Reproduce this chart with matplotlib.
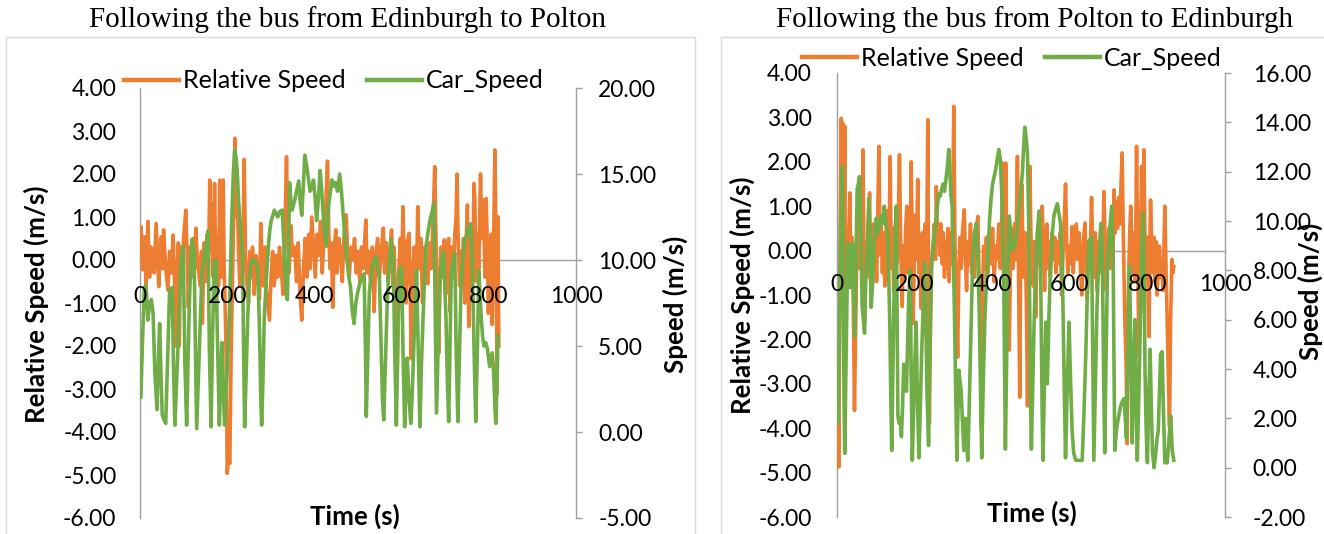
import matplotlib
matplotlib.use("Agg")
import matplotlib.pyplot as plt
from matplotlib.patches import Rectangle
from matplotlib.ticker import FormatStrFormatter

plt.rcParams['axes.unicode_minus'] = False
plt.rcParams['font.family'] = ['Lato', 'DejaVu Sans']

# ---------------- data: Edinburgh -> Polton ----------------
ep_rel_t = [0, 2, 6, 10, 14, 18, 22, 25, 28, 32, 37, 40, 43, 46, 49, 52, 54, 58, 61, 64, 68, 72, 76, 79, 82, 85, 88, 90, 93, 96,
            100, 105, 108, 111, 114, 118, 122, 125, 128, 131, 135, 138, 141, 143, 147, 151, 154, 157, 160, 163, 165, 168, 171, 173, 175, 178, 180, 183, 186, 188,
            191, 193, 196, 198, 200, 203, 206, 209, 212, 215, 218, 221, 223, 226, 229, 232, 235, 239, 242, 245, 249, 252, 255, 258, 262, 266, 270, 274, 277, 280,
            283, 287, 290, 294, 297, 300, 304, 308, 312, 316, 320, 324, 328, 332, 336, 339, 342, 346, 350, 355, 359, 363, 367, 371, 375, 379, 383, 387, 390, 394,
            398, 402, 406, 410, 414, 418, 422, 426, 430, 433, 436, 439, 442, 445, 449, 452, 456, 460, 464, 468, 473, 476, 480, 484, 488, 492, 496, 500, 504, 508,
            512, 515, 518, 521, 525, 529, 533, 537, 541, 545, 549, 553, 558, 561, 565, 569, 573, 577, 580, 583, 586, 590, 593, 597, 600, 603, 606, 610, 613, 617,
            620, 622, 625, 629, 633, 637, 640, 644, 648, 652, 656, 660, 664, 668, 672, 676, 679, 682, 685, 688, 691, 694, 698, 701, 704, 708, 711, 714, 718, 722,
            725, 727, 730, 733, 736, 739, 742, 745, 748, 751, 754, 757, 760, 763, 766, 768, 771, 774, 777, 781, 784, 788, 791, 794, 797, 799, 802, 805, 808, 811,
            814, 817, 819, 821, 823]
ep_rel_v = [0.6, 0.78, -0.23, 0.54, -0.6, 0.9, -0.4, 0.3, 0.15, -0.3, 0.85, 0.1, -0.62, 0.2, 0.54, -0.2, 0.7, 0.0, -0.4, -0.7, 0.2, -0.3, 0.58, -0.4, -2.0, -0.3, 0.4, -2.0, 0.3, -0.5,
            0.5, 1.16, 0.2, -1.1, 0.3, -0.4, 0.5, -0.2, 0.74, 0.1, -0.3, -0.6, 0.2, -1.47, 0.4, -0.5, 0.6, -0.3, 1.86, 0.2, 1.3, -0.4, 1.78, 0.3, -1.16, 0.5, -0.6, 1.86, -0.4, 0.8,
            1.86, -0.2, -1.4, -2.5, -4.96, -4.6, -4.73, -2.2, -0.5, 1.2, 2.83, 1.0, 1.7, 0.2, -0.6, 0.5, -0.3, 2.34, 0.1, -0.5, -1.0, 0.2, -0.4, 0.3, -0.8, 0.1, -0.3, -0.9, 0.85, 0.0,
            -0.6, 0.3, -0.7, -1.1, -1.4, -0.5, 0.2, -0.6, 0.1, -0.4, 0.3, -0.2, -0.8, 0.5, 2.4, 0.6, -0.3, 0.8, 0.1, 0.3, -0.5, 0.4, -0.8, -1.4, -0.2, 0.5, -0.4, 0.6, -0.2, 1.0,
            0.3, -0.4, 0.6, 0.1, 0.9, -0.3, 0.5, 1.2, 2.3, 0.6, -0.2, 0.4, -1.1, 0.2, 0.7, -0.3, 0.5, 0.2, -0.5, 0.6, 1.05, 0.2, -0.4, 0.3, 0.0, 0.5, -0.3, 0.2, -0.5, 0.3,
            -0.2, 0.4, 0.93, -0.3, 0.2, -0.6, 0.3, -1.2, 0.1, 0.5, -0.4, 0.2, 0.74, -0.3, 0.4, -0.5, 0.2, 0.7, -0.6, 0.3, -1.0, -2.75, -0.4, 0.5, -0.6, 1.24, 0.0, -1.0, 0.4, 0.62,
            -0.8, -2.3, -0.4, 0.3, -1.2, 1.24, -0.2, 0.5, -1.0, 0.3, -0.3, -0.55, 0.4, -0.2, 0.9, 2.17, 0.4, -0.6, -2.17, -0.5, 0.3, -0.4, 0.47, -0.8, 0.2, 0.5, -1.2, 0.3, -0.4, 0.6,
            1.0, 2.0, 0.3, -0.6, 0.2, -0.3, 0.5, -1.0, 0.4, 1.28, -1.55, 0.2, 0.78, -0.3, 1.78, 1.4, -0.5, 0.6, -0.2, 2.0, 0.5, 1.4, -0.4, 1.43, 0.2, -1.24, -0.3, 0.6, -1.5, 0.4,
            2.56, 0.2, -3.1, 1.0, -2.0]

ep_car_t = [0, 2, 6, 10, 14, 18, 22, 26, 30, 34, 39, 42, 45, 48, 51, 55, 59, 63, 68, 71, 74, 77, 80, 84, 88, 91, 94, 99, 103, 107,
            110, 113, 116, 119, 124, 127, 130, 133, 136, 139, 142, 146, 150, 153, 156, 159, 163, 166, 170, 174, 178, 182, 185, 188, 191, 194, 197, 200, 205, 210,
            214, 217, 220, 223, 226, 229, 232, 235, 238, 240, 243, 247, 250, 254, 258, 262, 266, 270, 274, 277, 279, 282, 285, 290, 295, 298, 301, 305, 308, 312,
            316, 320, 326, 329, 332, 336, 338, 341, 343, 346, 349, 352, 355, 359, 364, 367, 371, 374, 378, 382, 386, 390, 394, 398, 402, 405, 409, 413, 417, 421,
            424, 427, 430, 433, 437, 440, 444, 448, 453, 458, 462, 467, 471, 475, 479, 483, 487, 491, 495, 499, 503, 506, 510, 514, 517, 519, 522, 526, 530, 533,
            537, 541, 545, 549, 553, 556, 559, 563, 567, 571, 576, 581, 584, 588, 591, 595, 600, 603, 607, 610, 613, 617, 621, 624, 626, 630, 634, 638, 642, 645,
            649, 652, 656, 660, 665, 670, 674, 677, 680, 684, 688, 692, 696, 699, 702, 705, 708, 711, 714, 718, 722, 725, 729, 733, 736, 740, 745, 750, 754, 758,
            762, 766, 770, 774, 777, 780, 783, 786, 789, 793, 797, 800, 802, 805, 808, 811, 814, 816, 819, 821]
ep_car_s = [2.0, 2.0, 5.5, 8.4, 8.5, 6.5, 7.5, 7.7, 6.9, 3.5, 1.3, 4.0, 6.3, 3.5, 1.0, 0.7, 0.5, 4.0, 8.3, 7.5, 8.4, 3.5, 0.4, 3.0, 5.5, 8.0, 10.0, 10.8, 4.0, 0.4,
            4.0, 7.3, 9.5, 11.2, 10.4, 5.0, 0.2, 2.5, 4.7, 7.0, 9.2, 10.0, 10.7, 11.0, 11.7, 5.0, 0.3, 5.0, 9.8, 10.0, 5.0, 0.4, 3.0, 5.2, 2.5, 0.4, 2.0, 3.6, 6.9, 12.0,
            15.0, 16.4, 16.0, 15.2, 13.5, 12.3, 11.5, 10.4, 4.0, 0.3, 3.0, 6.6, 8.5, 9.7, 10.0, 10.0, 9.8, 9.6, 6.0, 2.0, 0.4, 3.0, 6.6, 9.0, 11.0, 11.8, 12.3, 12.6, 12.9, 12.7,
            12.5, 12.8, 12.9, 11.5, 9.7, 8.0, 7.7, 11.0, 14.5, 13.5, 12.9, 13.2, 13.5, 14.0, 14.6, 13.5, 12.6, 14.0, 16.1, 15.5, 14.8, 14.0, 14.2, 14.65, 13.5, 12.3, 13.5, 15.2, 14.0, 12.3,
            11.5, 10.8, 12.0, 13.3, 14.0, 14.65, 14.3, 14.5, 14.0, 15.0, 14.0, 12.3, 11.0, 10.0, 9.0, 8.4, 7.0, 6.3, 7.5, 8.1, 8.5, 8.8, 9.0, 9.2, 5.0, 0.9, 4.0, 8.1, 9.0, 9.6,
            10.0, 10.2, 9.6, 9.0, 5.0, 2.0, 0.7, 4.0, 7.5, 9.5, 11.2, 10.0, 5.0, 0.4, 5.0, 9.4, 9.6, 5.0, 0.3, 2.5, 4.3, 2.0, 0.5, 2.0, 3.5, 6.5, 9.4, 5.0, 0.3, 3.5,
            6.5, 8.5, 10.8, 11.5, 12.3, 12.8, 13.3, 7.0, 1.1, 5.0, 9.0, 10.0, 10.5, 8.5, 6.5, 3.0, 0.6, 5.0, 9.4, 10.0, 10.4, 5.0, 0.6, 5.0, 8.1, 10.0, 11.2, 11.5, 12.0, 12.1,
            10.0, 5.0, 0.6, 5.0, 9.4, 8.0, 6.5, 5.5, 5.0, 5.2, 4.8, 4.2, 3.8, 4.3, 4.6, 3.5, 1.5, 0.5, 3.0, 5.6]

# ---------------- data: Polton -> Edinburgh ----------------
pe_rel_t = [0, 3, 5, 8, 11, 13, 15, 18, 20, 22, 25, 28, 31, 33, 36, 39, 42, 45, 48, 51, 54, 57, 60, 64, 67, 71, 74, 77, 80, 84,
            87, 90, 93, 96, 99, 102, 105, 108, 111, 114, 117, 120, 123, 126, 129, 132, 135, 137, 140, 143, 146, 149, 152, 155, 158, 161, 164, 168, 171, 174,
            177, 180, 183, 186, 188, 191, 194, 196, 199, 202, 205, 208, 211, 214, 217, 220, 224, 227, 231, 234, 236, 238, 241, 244, 248, 251, 254, 256, 259, 262,
            265, 268, 271, 274, 277, 280, 283, 286, 289, 292, 295, 298, 301, 304, 307, 311, 314, 317, 320, 324, 328, 331, 334, 337, 340, 344, 347, 350, 354, 358,
            363, 366, 369, 372, 375, 378, 381, 385, 389, 393, 397, 401, 405, 409, 413, 417, 421, 424, 427, 430, 433, 435, 438, 441, 444, 447, 450, 454, 458, 461,
            465, 468, 471, 473, 476, 479, 482, 485, 488, 491, 494, 497, 500, 503, 506, 509, 512, 515, 518, 521, 525, 529, 532, 535, 538, 541, 544, 547, 550, 554,
            557, 561, 564, 568, 571, 575, 579, 582, 585, 589, 592, 595, 598, 602, 606, 609, 613, 617, 620, 624, 628, 631, 635, 639, 642, 645, 648, 652, 656, 659,
            662, 666, 670, 673, 676, 680, 684, 688, 691, 694, 697, 701, 704, 707, 711, 714, 717, 720, 723, 726, 729, 732, 735, 738, 742, 745, 748, 751, 754, 757,
            760, 763, 766, 769, 772, 775, 778, 781, 785, 788, 791, 794, 797, 800, 802, 804, 806, 808, 811, 814, 817, 820, 823, 825, 828, 831, 834, 837, 840, 843,
            845, 848, 851, 854, 857, 860, 863, 866, 868]
pe_rel_v = [-3.9, -3.9, -4.87, 0.5, 2.98, -0.5, 2.87, 0.2, 2.8, -1.64, 0.5, -0.8, 0.6, 1.3, -0.5, 0.3, -1.2, -3.6, -1.8, -0.2, 0.6, -0.4, 0.8, -0.3, 2.27, -1.64, 0.2, -0.6, 0.5, 1.3,
            -0.8, -0.2, 0.6, -0.4, 0.4, -0.7, 0.8, 2.35, -0.1, 0.6, -0.5, 0.4, -0.8, 0.2, 0.9, -0.3, 0.8, 2.12, -0.4, 0.5, -0.9, 0.3, 0.8, -0.3, 0.7, 2.16, 0.2, -1.26, 0.1, -0.6,
            0.5, 1.0, -0.5, 0.3, -0.8, 2.0, 0.3, -1.64, -0.4, 0.8, -0.2, 1.6, -0.5, 0.2, -1.3, 0.4, -0.5, 0.6, -0.2, 2.95, -1.0, -3.9, -1.7, -0.3, 0.2, 0.6, -0.2, 1.44, 0.3, 0.6,
            -0.1, 0.6, -0.3, 0.4, -0.6, 0.2, -0.4, 0.5, -0.7, 0.4, -0.3, 0.8, 3.25, 0.2, -0.9, -2.4, -0.5, 0.3, -0.4, 0.5, 0.92, -0.2, -0.9, 0.2, -0.3, 0.6, -0.5, 0.1, -0.6, 0.4,
            0.77, -0.5, -1.5, -4.0, -1.0, 0.1, -0.4, 0.3, -0.5, 0.4, -0.3, 0.5, -0.7, 0.1, -0.2, 0.6, -0.4, 0.5, 1.97, 0.2, -0.5, 1.97, -0.4, -1.2, -2.24, -0.3, 0.5, -0.4, 0.6, -0.2,
            2.12, -0.5, -3.3, -0.6, 1.5, 0.2, -0.6, 0.4, -1.2, -3.5, -0.2, 1.9, 0.3, -0.4, -0.8, 0.2, -1.5, -0.2, 0.4, -0.3, 0.5, 1.0, 0.0, -0.9, 0.3, 0.6, -0.4, 0.2, -0.6, 0.4,
            -0.2, 0.3, -0.5, 0.2, -0.3, 0.4, -1.0, -0.2, 0.5, 1.5, 0.2, -0.5, 0.1, -0.3, 0.54, -0.5, 0.2, 0.6, -0.2, 0.4, -0.5, -1.0, 0.2, 0.62, -0.3, -1.1, 0.2, -0.4, 1.2, 0.1,
            -0.6, 0.4, -0.9, 0.2, -0.5, 0.4, -0.3, 1.33, 0.2, -0.9, -0.2, 0.5, -0.4, 0.6, -0.3, 1.37, 0.4, 1.1, 0.5, 1.2, 0.6, 1.5, 2.2, 0.3, -1.64, -2.5, -4.35, -1.0, 0.3, 1.0,
            0.1, -0.5, 0.4, -0.7, 2.35, 0.0, -2.4, -0.5, 1.9, 0.2, 2.27, 0.1, -0.6, 0.3, -1.2, -1.94, -0.2, 1.14, 0.2, -0.5, 0.3, -0.7, 0.2, -1.0, -0.3, 0.1, -0.6, -0.2, -0.9, 0.3,
            1.0, -0.4, -1.64, -2.8, -3.97, -1.5, -0.2, -0.5, -0.36]

pe_car_t = [0, 3, 6, 9, 12, 14, 16, 18, 20, 23, 26, 28, 31, 34, 37, 40, 43, 46, 49, 52, 55, 58, 61, 65, 68, 71, 74, 78, 82, 85,
            88, 92, 95, 98, 101, 105, 109, 113, 117, 122, 126, 130, 133, 136, 139, 141, 144, 147, 150, 153, 155, 157, 160, 163, 166, 169, 172, 175, 179, 182,
            185, 189, 191, 194, 197, 200, 204, 207, 211, 214, 218, 222, 226, 229, 232, 236, 239, 243, 247, 251, 255, 258, 262, 266, 270, 273, 277, 281, 285, 288,
            291, 294, 297, 300, 303, 306, 309, 312, 314, 317, 320, 323, 327, 329, 331, 334, 337, 340, 342, 346, 350, 354, 359, 363, 367, 370, 373, 377, 381, 385,
            389, 393, 397, 401, 405, 408, 412, 417, 421, 425, 429, 432, 434, 437, 440, 444, 448, 452, 457, 461, 465, 469, 474, 478, 481, 484, 488, 491, 494, 497,
            499, 501, 504, 508, 512, 516, 521, 524, 527, 529, 531, 534, 538, 542, 546, 550, 555, 559, 564, 568, 572, 576, 580, 583, 586, 589, 593, 598, 602, 606,
            610, 615, 620, 624, 628, 632, 636, 641, 645, 650, 656, 659, 662, 666, 670, 675, 680, 684, 687, 690, 693, 697, 702, 708, 712, 714, 716, 720, 725, 731,
            736, 740, 743, 746, 750, 754, 757, 761, 765, 768, 771, 774, 778, 782, 786, 789, 792, 794, 797, 800, 803, 807, 810, 813, 817, 821, 825, 828, 831, 834,
            838, 841, 845, 848, 851, 855, 860, 864, 868]
pe_car_s = [2.0, 1.81, 5.0, 9.0, 11.0, 12.2, 8.0, 3.0, 0.58, 4.0, 7.0, 9.1, 8.0, 7.3, 8.5, 9.1, 7.0, 5.3, 8.5, 11.3, 11.5, 11.8, 10.0, 6.5, 6.0, 5.45, 7.5, 8.8, 10.9, 9.0,
            6.5, 7.5, 8.8, 9.6, 10.1, 9.5, 9.8, 10.2, 9.9, 10.6, 9.8, 9.6, 8.0, 5.9, 2.5, 0.7, 4.0, 7.0, 9.5, 10.6, 6.0, 2.1, 1.8, 2.0, 1.26, 2.5, 4.2, 3.5, 3.1, 5.0,
            7.0, 8.0, 4.0, 0.3, 2.0, 4.0, 5.9, 3.0, 0.4, 2.0, 4.5, 6.5, 8.3, 6.0, 3.0, 0.9, 4.5, 8.0, 8.8, 9.4, 10.0, 10.5, 11.1, 11.0, 11.3, 11.5, 11.2, 11.7, 12.3, 12.9,
            12.0, 11.0, 10.6, 8.5, 6.0, 3.0, 0.3, 2.5, 3.95, 3.5, 3.1, 2.0, 0.7, 1.5, 2.0, 1.0, 0.3, 2.0, 3.4, 6.0, 8.6, 9.5, 9.9, 8.5, 6.0, 3.0, 0.4, 3.5, 6.0, 7.5,
            8.6, 10.0, 10.9, 11.5, 11.8, 12.0, 12.4, 12.9, 12.5, 11.0, 8.6, 4.0, 0.75, 4.0, 8.0, 10.2, 9.5, 8.8, 9.0, 9.2, 9.8, 10.5, 11.3, 12.0, 13.0, 13.8, 13.3, 12.7, 10.0, 6.0,
            2.5, 0.75, 3.0, 5.9, 8.0, 9.5, 10.4, 9.0, 5.0, 2.0, 0.3, 3.0, 5.9, 3.4, 6.0, 8.0, 9.5, 10.2, 10.5, 10.7, 10.3, 9.9, 8.5, 6.0, 3.0, 0.4, 3.0, 5.9, 3.5, 1.5,
            0.6, 0.3, 0.3, 0.3, 0.3, 0.3, 2.0, 4.5, 7.0, 9.2, 9.35, 5.0, 0.3, 3.5, 6.5, 8.5, 9.9, 8.5, 4.0, 0.6, 4.0, 8.0, 9.5, 10.6, 8.0, 4.0, 0.7, 1.5, 2.0, 2.5,
            2.7, 2.8, 2.0, 1.2, 5.0, 8.15, 5.0, 1.0, 4.0, 6.0, 3.0, 0.3, 3.0, 6.0, 9.0, 10.3, 7.0, 3.8, 1.5, 0.2, 2.5, 4.8, 2.5, 0.7, 0.0, 0.5, 1.2, 1.5, 3.0, 4.6,
            4.7, 2.5, 0.2, 0.2, 0.2, 1.0, 2.1, 0.7, 0.3]

titles = ["Following the bus from Edinburgh to Polton", "Following the bus from Polton to Edinburgh"]
series_names = ["Relative Speed", "Car_Speed"]
x_ticks = [0, 200, 400, 600, 800, 1000]
rel_ticks = [-6, -5, -4, -3, -2, -1, 0, 1, 2, 3, 4]
car_ticks_1 = [-5, 0, 5, 10, 15, 20]
car_ticks_2 = [-2, 0, 2, 4, 6, 8, 10, 12, 14, 16]

ORANGE = '#ED7D31'
GREEN = '#70AD47'
AXC = '#A0A0A0'
W, H = 1324, 534
FS = 16.5      # tick labels
FS_LAB = 18.6  # bold axis titles
FS_LEG = 18.0  # legend
LW = 2.6

fig = plt.figure(figsize=(W / 100, H / 100), dpi=100)


def fx(px):
    return px / W


def fy(py):
    return 1 - py / H


# panel borders
fig.patches.append(Rectangle((fx(6), -0.02), fx(695) - fx(6), fy(37) + 0.02, transform=fig.transFigure,
                             fill=False, edgecolor='#D9D9D9', lw=1.0))
fig.patches.append(Rectangle((fx(721), -0.02), fx(1340) - fx(721), fy(37) + 0.02, transform=fig.transFigure,
                             fill=False, edgecolor='#D9D9D9', lw=1.0))


def panel(x0, x1, ytop, ybot, rel_t, rel_v, car_t, car_s, car_ticks, title, title_x,
          xpad, lpad, rpad, ylab_l, ylab_r, xlab, leg_xy):
    ax = fig.add_axes([fx(x0), fy(ybot), fx(x1) - fx(x0), (ybot - ytop) / H])
    ax2 = ax.twinx()
    ax.set_zorder(ax2.get_zorder() + 1)
    ax.set_axisbelow(False)  # tick labels drawn over the lines
    ax.set_xlim(0, 1000)
    ax.set_ylim(rel_ticks[0], rel_ticks[-1])
    ax2.set_ylim(car_ticks[0], car_ticks[-1])
    # orange on primary axis, green on secondary axis scale (drawn on top)
    l1, = ax.plot(rel_t, rel_v, color=ORANGE, lw=LW, solid_joinstyle='round', zorder=2)
    l2, = ax.plot(car_t, car_s, color=GREEN, lw=LW, solid_joinstyle='round', zorder=2.1,
                  transform=ax2.transData)
    ax.set_xlim(0, 1000)
    ax.set_ylim(rel_ticks[0], rel_ticks[-1])
    ax2.set_ylim(car_ticks[0], car_ticks[-1])
    ax.set_xticks(x_ticks)
    ax.set_yticks(rel_ticks)
    ax2.set_yticks(car_ticks)
    ax.yaxis.set_major_formatter(FormatStrFormatter('%.2f'))
    ax2.yaxis.set_major_formatter(FormatStrFormatter('%.2f'))
    for a in (ax, ax2):
        a.patch.set_visible(False)
        for s in a.spines.values():
            s.set_visible(False)
    for key in ('left', 'bottom'):
        sp = ax.spines[key]
        sp.set_visible(True)
        sp.set_color(AXC)
        sp.set_linewidth(1.0)
        sp.set_zorder(1.5)
    ax.spines['bottom'].set_position(('data', 0))
    ax2.spines['right'].set_visible(True)
    ax2.spines['right'].set_color(AXC)
    ax2.spines['right'].set_linewidth(1.0)
    ax.tick_params(axis='x', length=0, pad=xpad, labelsize=FS)
    ax.tick_params(axis='y', length=0, pad=lpad, labelsize=FS)
    ax2.tick_params(axis='y', length=4, width=1.0, color=AXC, direction='out', pad=rpad, labelsize=FS)
    ax.set_ylabel("Relative Speed (m/s)", fontsize=FS_LAB, fontweight='bold', ha='center', va='center')
    ax.yaxis.set_label_coords((ylab_l[0] - x0) / (x1 - x0), (ybot - ylab_l[1]) / (ybot - ytop))
    ax2.set_ylabel("Speed (m/s)", fontsize=FS_LAB, fontweight='bold', ha='center', va='center', rotation=90)
    ax2.yaxis.set_label_coords((ylab_r[0] - x0) / (x1 - x0), (ybot - ylab_r[1]) / (ybot - ytop))
    ax.set_xlabel("Time (s)", fontsize=FS_LAB, fontweight='bold', ha='center', va='center')
    ax.xaxis.set_label_coords((xlab[0] - x0) / (x1 - x0), (ybot - xlab[1]) / (ybot - ytop))
    leg = ax.legend([l1, l2], series_names, loc='center', bbox_to_anchor=(fx(leg_xy[0]), fy(leg_xy[1])),
                    bbox_transform=fig.transFigure, ncol=2, frameon=False, fontsize=FS_LEG,
                    handlelength=2.2, handletextpad=0.16, columnspacing=0.85, borderpad=0, borderaxespad=0)
    for h in leg.legend_handles:
        h.set_linewidth(3.2)
    fig.text(fx(title_x), fy(20), title, ha='center', va='center',
             family=['Liberation Serif', 'DejaVu Serif'], fontsize=21)
    return ax, ax2


panel(140, 576, 88, 518, ep_rel_t, ep_rel_v, ep_car_t, ep_car_s, car_ticks_1, titles[0], 348,
      xpad=19, lpad=17, rpad=12, ylab_l=(36, 304), ylab_r=(675, 304), xlab=(355, 516), leg_xy=(334, 81))
panel(837, 1225, 73, 517, pe_rel_t, pe_rel_v, pe_car_t, pe_car_s, car_ticks_2, titles[1], 1034,
      xpad=17, lpad=18, rpad=16, ylab_l=(742, 295), ylab_r=(1310, 291), xlab=(1032, 513), leg_xy=(1012, 58))

fig.savefig("out.png", dpi=100)
